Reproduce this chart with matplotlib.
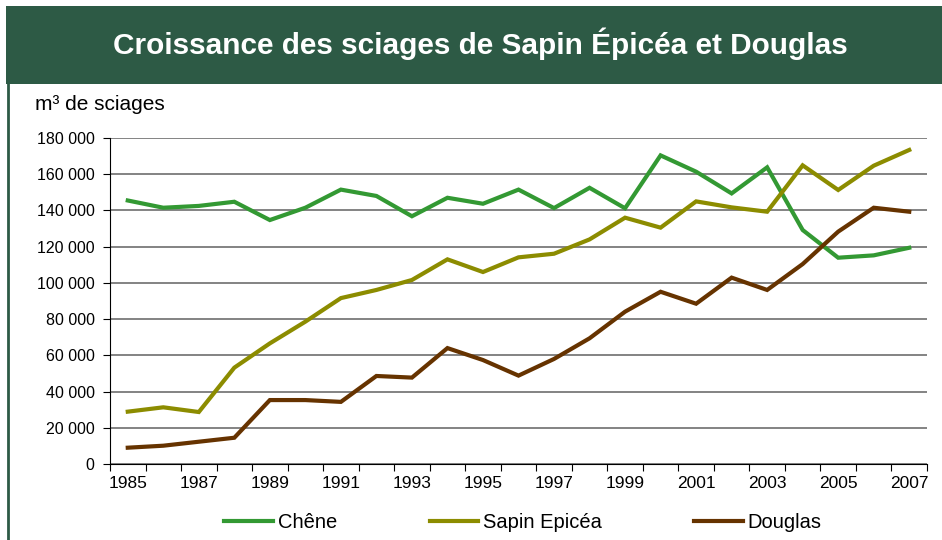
import numpy as np
import matplotlib
matplotlib.use("Agg")
from matplotlib import pyplot as plt
from matplotlib.patches import Rectangle
from matplotlib.lines import Line2D

plt.rcParams['font.family'] = ['Liberation Sans', 'DejaVu Sans']

years = list(range(1985, 2008))
chene = [145500, 141500, 142500, 144800, 134700, 141500, 151500, 148000, 136800,
         147000, 143700, 151500, 141300, 152500, 141200, 170400, 161400, 149400,
         163800, 129200, 113900, 115200, 119400]
sapin = [28900, 31300, 28700, 53200, 66600, 78600, 91600, 96100, 101600,
         113000, 106000, 114100, 116100, 124000, 136000, 130500, 145000, 141700,
         139300, 164900, 151300, 164700, 173400]
douglas = [9000, 10100, 12300, 14500, 35300, 35300, 34300, 48600, 47700,
           64000, 57400, 48800, 58000, 69400, 84100, 95100, 88500, 102900,
           96100, 110400, 128300, 141500, 139300]
series_names = ["Chêne", "Sapin Epicéa", "Douglas"]
colors = ["#339933", "#8C8C00", "#663300"]
yticks = list(range(0, 180001, 20000))
ytick_labels = ["0", "20 000", "40 000", "60 000", "80 000", "100 000",
                "120 000", "140 000", "160 000", "180 000"]

fig = plt.figure(figsize=(9.42, 5.4), dpi=100)
banner_green = "#2D5A45"
fig.patches.append(Rectangle((6/942, 1-84/540), 1-6/942, 78/540,
                             transform=fig.transFigure, facecolor=banner_green,
                             edgecolor="none", zorder=0))
fig.lines.append(Line2D([7.5/942, 7.5/942], [0, 1-84/540], transform=fig.transFigure,
                        color=banner_green, lw=2))
fig.text(480/942, 1-44/540, "Croissance des sciages de Sapin Épicéa et Douglas",
         color="white", fontsize=21.4, fontweight="bold", ha="center", va="center")
fig.text(35/942, 1-104/540, "m³ de sciages", fontsize=15, ha="left", va="center")

ax = fig.add_axes([110/942, 76/540, 817/942, 326/540])
x = np.arange(len(years))
for vals, name, c in zip([chene, sapin, douglas], series_names, colors):
    ax.plot(x, vals, color=c, lw=3, label=name, solid_joinstyle="miter")

ax.set_xlim(-0.5, len(years) - 0.5)
ax.set_ylim(0, 180000)
ax.set_yticks(yticks)
ax.set_yticklabels(ytick_labels, fontsize=11.5)
ax.yaxis.grid(True, color="#7a7a7a", lw=1.3)
ax.set_axisbelow(True)
ax.set_xticks(np.arange(-0.5, len(years), 1))
ax.set_xticklabels([])
ax.tick_params(axis="x", which="major", length=5, direction="out", color="black")
lab_pos = [i for i, yr in enumerate(years) if yr % 2 == 1]
ax.set_xticks(lab_pos, minor=True)
ax.set_xticklabels([str(years[i]) for i in lab_pos], minor=True, fontsize=12.5)
ax.tick_params(axis="x", which="minor", length=0, pad=9)
ax.tick_params(axis="y", length=5, direction="out", pad=6)
for s in ["top", "right"]:
    ax.spines[s].set_visible(False)
ax.spines["left"].set_color("black")
ax.spines["bottom"].set_color("black")

fig.legend(loc="center", bbox_to_anchor=(523/942, 1-523/540), ncol=3, frameon=False,
           fontsize=14.5, handlelength=2.4, handletextpad=0.25, columnspacing=4.6)

plt.savefig("out.png", dpi=100)
